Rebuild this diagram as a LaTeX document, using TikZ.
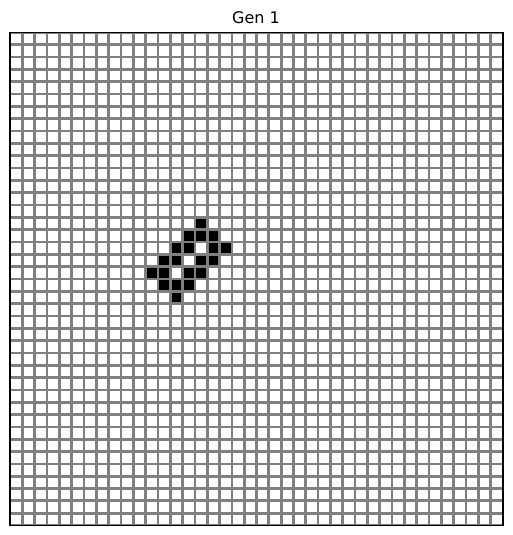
\documentclass[tikz,border=0pt]{standalone}
\usepackage{fontspec}
\setmainfont{DejaVu Sans}
\begin{document}
\begin{tikzpicture}[x=1pt,y=1pt,
  live/.style={fill=black},
  dead/.style={fill=white},
  gridbg/.style={fill=gray},
  frame/.style={draw=black, line width=1.1pt}]
\useasboundingbox (0,0) rectangle (512,535);
\def\cs{12.325}
\def\xo{10}
\def\yt{502.5}
\def\hw{1.35}
% grid background (the grid lines)
\fill[gridbg] (\xo,\yt) rectangle ({\xo+40*\cs},{\yt-40*\cs});
% empty cells
\foreach \c in {0,...,39}{
  \foreach \r in {0,...,39}{
    \fill[dead] ({\xo+\c*\cs+\hw},{\yt-\r*\cs-\hw}) rectangle ({\xo+(\c+1)*\cs-\hw},{\yt-(\r+1)*\cs+\hw});
  }
}
% live cells (col,row)
\foreach \c/\r in {15/15, 14/16,15/16,16/16, 13/17,14/17,16/17,17/17,
  12/18,13/18,15/18,16/18, 11/19,12/19,14/19,15/19, 12/20,13/20,14/20, 13/21}{
  \fill[live] ({\xo+\c*\cs+\hw},{\yt-\r*\cs-\hw}) rectangle ({\xo+(\c+1)*\cs-\hw},{\yt-(\r+1)*\cs+\hw});
}
\draw[frame] (\xo,\yt) rectangle ({\xo+40*\cs},{\yt-40*\cs});
\node[font=\fontsize{16}{19}\selectfont, anchor=base, inner sep=0pt] (title) at (256,511.7) {Gen 1};
\end{tikzpicture}
\end{document}
